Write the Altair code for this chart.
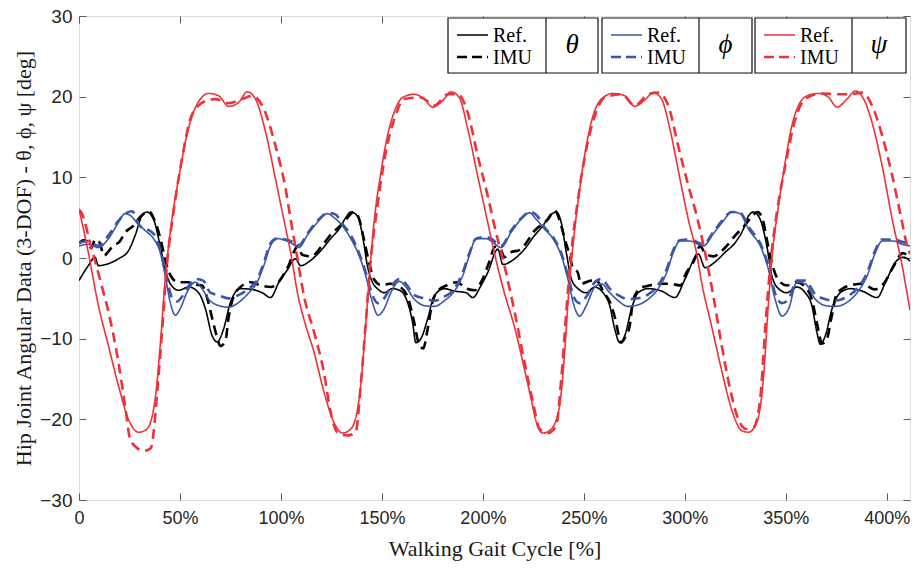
import altair as alt
import pandas as pd

# ---------------- data ----------------
theta_ref_x = [0, 4.6, 7.9, 9.6, 14.6, 19.5, 24.5, 27.8, 31.1, 33.6, 36.9, 40.2, 42.7, 45.2, 49.3, 54.3, 59.2, 62.6, 65.9, 68.4, 71.6, 75.0, 79.9, 85.7, 90.7, 94.8, 99.0, 103.1,
               107.2, 109.7, 114.7, 119.7, 124.6, 128.8, 132.1, 134.6, 137.9, 140.4, 142.8, 145.3, 147.8, 151.1, 155.2, 159.4, 162.7, 165.2, 166.8, 169.3, 172.6, 175.9, 180.9, 185.9, 191.7, 195.0, 199.1, 202.4,
               207.4, 209.9, 215.7, 220.6, 225.6, 229.7, 233.0, 236.3, 238.8, 241.3, 243.8, 247.1, 251.2, 255.4, 259.5, 262.8, 265.3, 267.8, 270.3, 273.6, 276.9, 281.9, 288.5, 295.1, 300.1,
               306.7, 310.0, 314.9, 319.9, 324.9, 329.0, 331.5, 334.0, 337.3, 340.6, 343.1, 346.4, 350.5, 355.5, 359.6, 362.9, 365.4, 367.1, 369.6, 372.9, 377.0, 382.0, 387.8, 395.2, 399.4, 404.3, 408.5, 411.5]
theta_ref_y = [-2.8, -0.95, 0.1, -0.95, -0.7, -0.1, 0.9, 2.8, 5.2, 5.7, 4.8, 1.5, -1.4, -3.2, -4.0, -3.6, -4.3, -6.3, -9.6, -10.4, -8.8, -5.5, -3.8, -3.9, -4.3, -4.9, -3.0, -1.5,
               -0.1, -0.95, -0.3, 0.9, 2.4, 3.6, 5.0, 5.7, 5.2, 2.8, -0.95, -3.0, -3.8, -4.3, -3.8, -4.1, -5.5, -8.0, -10.5, -10.0, -7.6, -4.7, -3.8, -4.1, -4.3, -4.9, -3.4, -1.8,
               1.1, -0.8, -0.1, 1.1, 2.8, 4.0, 5.2, 5.7, 4.4, 0.7, -2.6, -3.8, -4.3, -3.6, -4.3, -5.9, -8.8, -10.5, -9.6, -6.3, -4.3, -3.8, -4.1, -4.9, -2.6,
               0.5, -1.2, -0.5, 0.7, 1.9, 3.6, 5.2, 5.7, 4.8, 1.5, -2.2, -3.8, -4.3, -3.6, -4.3, -5.9, -9.2, -10.7, -9.6, -6.3, -4.3, -3.8, -4.1, -4.9, -3.0, -0.5, 0.1, -0.4]

theta_imu_x = [0, 2.0, 4.5, 6.0, 8.0, 10.0, 12.5, 14.5, 17.0, 20.0, 23.0, 27.0, 30.0, 33.0, 35.0, 37.5, 40.0, 42.0, 44.0, 46.5, 49.0, 54.0, 58.0, 61.0, 63.5, 65.5, 68.0, 70.0, 72.5, 74.0, 76.5, 80.0, 85.0, 90.0, 95.0, 98.0, 101.0,
               104.0, 106.5, 108.5, 110.5, 115.0, 120.0, 125.0, 129.0, 133.0, 136.0, 138.5, 141.0, 143.5, 146.0, 150.0, 154.0, 159.0, 163.0, 166.0, 168.5, 170.5, 172.5, 175.0, 178.0, 182.0, 187.0, 192.0, 196.0, 199.5, 203.0,
               206.0, 208.5, 210.7, 213.0, 219.0, 221.0, 225.6, 230.5, 232.2, 235.5, 238.8, 240.5, 243.0, 244.5, 247.0, 248.5, 253.7, 256.2, 260.0, 263.0, 265.5, 268.5, 270.5, 272.7, 274.5, 279.0, 281.0, 287.0, 292.6, 298.0, 300.0, 305.0,
               307.5, 310.0, 314.0, 320.0, 325.0, 329.5, 333.0, 336.0, 338.5, 341.0, 343.5, 346.5, 350.5, 355.5, 359.6, 363.0, 365.5, 368.0, 370.0, 372.5, 375.0, 378.0, 382.0, 388.0, 394.0, 399.0, 403.0, 408.0, 411.5]
theta_imu_y = [1.8, 2.2, 2.0, 1.2, 2.3, 2.0, 0.3, 0.8, 1.5, 2.0, 3.2, 4.0, 5.0, 5.6, 5.7, 4.6, 2.7, 0.6, -1.4, -2.6, -3.0, -3.0, -3.3, -3.4, -5.0, -7.0, -9.5, -10.9, -10.3, -7.5, -4.8, -3.6, -3.0, -3.4, -3.6, -3.2, -2.2,
               -0.8, 0.8, 1.5, 0.4, 0.2, 1.4, 3.0, 3.9, 5.0, 5.7, 5.0, 2.4, -0.4, -2.6, -3.4, -3.2, -3.6, -5.0, -8.0, -10.8, -11.2, -9.0, -5.5, -4.0, -3.4, -3.0, -3.8, -4.0, -2.8, -0.6,
               1.4, 1.2, 0.1, 0.6, 1.1, 1.7, 3.4, 4.4, 4.8, 5.9, 4.0, 2.4, 0.3, -1.2, -1.8, -3.2, -2.8, -2.8, -4.3, -5.5, -7.5, -10.5, -9.8, -8.4, -5.1, -3.6, -3.5, -3.2, -3.2, -3.4, -2.2, -0.1,
               1.5, 0.6, 0.2, 1.3, 2.8, 4.0, 5.1, 5.7, 4.8, 1.8, -1.0, -2.8, -3.4, -3.0, -3.6, -5.2, -8.2, -10.6, -10.3, -7.5, -4.6, -3.8, -3.4, -3.2, -3.9, -3.0, -1.2, 0.6, 0.0]

phi_ref_x = [0, 4.6, 9.6, 14.6, 19.5, 22.8, 25.3, 28.6, 32.8, 36.9, 40.2, 42.7, 45.2, 47.7, 50.1, 53.4, 57.6, 60.9, 64.2, 69.2, 74.1, 79.1, 84.1, 88.2, 91.5, 94.8, 98.1,
             104.8, 108.9, 113.0, 118.0, 123.0, 126.3, 130.4, 134.6, 138.7, 142.0, 145.3, 148.1, 151.1, 154.4, 158.6, 161.9, 166.0, 171.0, 176.0, 180.9, 185.9, 190.0, 193.3, 196.6, 201.6,
             204.1, 209.0, 214.0, 218.9, 223.1, 226.4, 230.5, 234.7, 238.8, 242.1, 245.1, 247.9, 251.2, 255.4, 258.7, 262.8, 267.0, 271.9, 276.9, 281.9, 286.8, 291.0, 294.3, 297.6, 302.5,
             309.2, 314.1, 319.1, 323.2, 327.4, 331.5, 338.1, 341.4, 344.7, 348.1, 351.4, 355.5, 359.6, 364.6, 369.6, 374.5, 380.3, 385.3, 390.3, 394.4, 397.7, 403.5, 407.6, 411.5]
phi_ref_y = [1.5, 1.7, 1.3, 2.4, 4.4, 5.5, 5.3, 4.4, 3.4, 2.4, 0.7, -2.2, -5.5, -7.1, -6.3, -4.3, -3.0, -3.8, -5.1, -5.9, -6.1, -5.5, -4.3, -3.0, -0.95, 1.5, 2.4,
             1.9, 1.3, 2.8, 4.4, 5.5, 5.0, 4.0, 2.4, 0.3, -2.2, -5.5, -7.1, -6.3, -4.3, -2.9, -3.6, -5.1, -5.9, -6.0, -5.3, -4.1, -2.2, 0.3, 2.4, 2.4,
             2.1, 1.3, 3.2, 4.8, 5.6, 4.8, 3.6, 2.4, 0.3, -2.6, -5.9, -7.2, -5.9, -3.6, -3.2, -4.3, -5.3, -6.0, -5.8, -5.1, -3.8, -1.8, 0.7, 2.1, 2.1,
             1.5, 3.0, 4.6, 5.7, 5.5, 3.6, 1.1, -1.4, -5.1, -7.2, -6.3, -3.0, -3.2, -5.1, -5.9, -6.0, -5.5, -4.3, -2.2, 0.7, 2.1, 2.1, 1.7, 1.5]

phi_imu_x = [0, 4.6, 9.6, 14.6, 19.5, 23.5, 26.5, 29.0, 32.0, 35.0, 38.0, 41.0, 43.5, 46.0, 48.5, 51.0, 54.0, 58.0, 61.5, 65.0, 69.0, 74.0, 79.0, 84.0, 88.0, 91.5, 95.0, 98.0,
             104.8, 108.9, 113.0, 118.0, 123.5, 127.0, 130.5, 134.6, 138.7, 142.0, 145.3, 148.1, 151.1, 154.4, 158.6, 161.9, 166.0, 171.0, 176.0, 180.9, 185.9, 190.0, 193.3, 196.6, 201.6,
             204.1, 209.0, 214.0, 218.9, 223.5, 227.0, 230.5, 234.7, 238.8, 242.1, 245.1, 247.9, 251.2, 255.4, 258.7, 262.8, 267.0, 271.9, 276.9, 281.9, 286.8, 291.0, 294.3, 297.6, 302.5,
             309.2, 314.1, 319.1, 323.2, 327.4, 331.5, 338.1, 341.4, 344.7, 348.1, 351.4, 355.5, 359.6, 364.6, 369.6, 374.5, 380.3, 385.3, 390.3, 394.4, 397.7, 403.5, 407.6, 411.5]
phi_imu_y = [1.9, 2.1, 1.5, 2.8, 4.6, 5.6, 5.8, 4.4, 3.6, 3.4, 2.6, 0.3, -2.6, -4.9, -5.4, -4.8, -3.6, -2.6, -2.8, -4.3, -4.6, -5.0, -4.6, -3.8, -2.8, -0.6, 1.9, 2.4,
             2.1, 1.6, 3.0, 4.6, 5.6, 5.4, 4.2, 2.8, 0.6, -1.8, -4.6, -5.6, -5.0, -3.6, -2.6, -3.2, -4.6, -5.0, -5.3, -4.8, -3.8, -1.8, 0.6, 2.4, 2.6,
             2.4, 1.5, 3.4, 4.9, 5.7, 5.2, 3.8, 2.6, 0.6, -2.2, -4.9, -5.6, -4.8, -3.0, -2.6, -3.8, -4.6, -5.1, -5.0, -4.5, -3.4, -1.4, 1.0, 2.2, 2.3,
             1.7, 3.2, 4.8, 5.7, 5.6, 3.9, 1.4, -1.0, -4.4, -5.6, -5.1, -2.8, -2.8, -4.5, -5.1, -5.3, -4.8, -3.8, -1.8, 1.0, 2.3, 2.3, 2.0, 1.8]

psi_ref_x = [0, 2.3, 4.6, 9.6, 14.6, 19.5, 24.5, 29.5, 33.6, 37.7, 40.2, 42.7, 46.0, 49.3, 52.6, 56.0, 60.1, 64.2, 69.2, 74.1, 79.1, 83.3, 87.4, 92.4, 97.3, 101.4, 104.8,
             108.4, 111.4, 116.4, 121.3, 126.3, 130.4, 134.6, 138.7, 141.2, 143.7, 146.1, 149.5, 152.8, 156.1, 160.2, 166.0, 171.0, 175.1, 180.1, 184.2, 188.3, 192.5, 197.4, 202.4, 206.0,
             210.5, 215.7, 220.6, 223.9, 226.4, 229.7, 233.9, 238.0, 240.5, 242.5, 244.6, 247.9, 251.2, 254.5, 258.7, 264.5, 270.3, 275.2, 280.2, 284.3, 288.5, 292.6, 297.6, 301.7, 305.9,
             308.3, 313.3, 318.3, 323.2, 328.2, 331.5, 335.6, 338.9, 341.1, 343.1, 346.4, 349.7, 353.0, 356.3, 360.5, 366.3, 371.2, 375.4, 380.3, 384.5, 388.6, 392.7, 397.7, 402.7, 407.6, 411.5]
psi_ref_y = [6.1, 3.5, 0.7, -5.9, -10.9, -15.8, -20.0, -21.6, -21.2, -17.5, -10.9, -2.6, 4.8, 9.8, 14.3, 17.6, 19.7, 20.4, 20.1, 18.8, 19.3, 20.6, 19.7, 15.6, 9.8, 4.8, 0.7,
             -4.6, -7.6, -11.7, -16.6, -20.4, -21.7, -21.2, -17.5, -10.9, -2.6, 4.4, 10.6, 15.2, 18.1, 19.9, 20.3, 19.7, 18.7, 19.5, 20.6, 19.9, 16.0, 10.2, 4.4, 0.3,
             -4.2, -8.6, -13.8, -17.5, -20.3, -21.7, -21.2, -18.3, -11.7, -4.3, 1.5, 8.5, 13.9, 17.6, 19.7, 20.4, 20.1, 18.8, 19.6, 20.5, 19.7, 16.0, 9.8, 4.8, 0.5,
             -3.0, -8.5, -14.0, -18.8, -21.4, -21.6, -20.4, -15.0, -6.7, -0.1, 6.5, 11.9, 16.4, 18.9, 20.1, 20.4, 19.9, 18.7, 19.7, 20.7, 19.7, 16.8, 11.4, 4.8, -0.95, -6.5]

psi_imu_x = [0, 1.0, 6.3, 11.2, 14.6, 19.5, 22.8, 25.3, 29.0, 32.0, 35.5, 37.0, 38.6, 41.1, 43.5, 46.8, 51.0, 55.1, 59.2, 63.0, 67.5, 74.1, 80.8, 85.7, 91.5, 97.3, 102.3, 104.8,
             108.0, 111.4, 116.4, 121.3, 124.6, 127.9, 132.9, 137.0, 139.5, 142.0, 144.5, 147.8, 151.9, 156.1, 161.0, 169.3, 175.9, 182.6, 187.5, 192.5, 197.4, 202.4, 205.7,
             210.7, 215.7, 220.6, 224.8, 228.1, 232.2, 236.3, 238.8, 241.3, 243.8, 247.1, 251.2, 255.4, 260.3, 268.6, 275.2, 281.9, 286.8, 291.8, 296.7, 301.7, 305.9,
             310.0, 314.1, 318.3, 322.4, 326.5, 330.7, 334.0, 337.3, 339.8, 342.3, 345.6, 349.7, 354.7, 359.6, 367.9, 374.5, 382.0, 387.8, 392.7, 397.7, 402.7, 407.6, 410.1, 411.5]
psi_imu_y = [6.0, 5.7, 1.1, -3.4, -6.7, -12.9, -18.3, -22.4, -23.6, -23.9, -23.6, -21.5, -17.0, -9.2, -1.0, 5.7, 12.3, 17.2, 18.9, 19.5, 19.7, 19.2, 19.7, 20.1, 18.5, 13.9, 8.6, 4.8,
             0.2, -4.7, -9.2, -14.2, -19.1, -21.6, -22.0, -21.6, -15.8, -8.0, -0.1, 6.5, 13.1, 17.2, 19.7, 19.9, 18.9, 20.3, 20.3, 18.0, 12.7, 7.7, 4.0,
             -1.0, -6.7, -12.9, -17.9, -21.2, -21.7, -20.8, -15.0, -6.7, 0.7, 7.3, 13.5, 17.6, 19.9, 20.3, 18.9, 20.3, 20.5, 18.9, 13.9, 9.0, 5.2,
             0.7, -4.7, -10.9, -16.2, -20.0, -21.2, -21.0, -17.5, -8.8, -0.95, 5.7, 11.4, 17.2, 19.7, 20.4, 20.3, 20.3, 20.5, 18.9, 15.2, 10.2, 4.4, 1.5, 0.5]

x_ticks = [0, 50, 100, 150, 200, 250, 300, 350, 400]
y_ticks = [-30, -20, -10, 0, 10, 20, 30]
legend_groups = [("θ", "#000000"), ("ϕ", "#3A56A8"), ("ψ", "#EE3239")]
legend_rows = ["Ref.", "IMU"]

# ---------------- build ----------------
series = [
    ("theta_ref", theta_ref_x, theta_ref_y, "#000000", False),
    ("theta_imu", theta_imu_x, theta_imu_y, "#000000", True),
    ("phi_ref", phi_ref_x, phi_ref_y, "#3A56A8", False),
    ("phi_imu", phi_imu_x, phi_imu_y, "#3A56A8", True),
    ("psi_ref", psi_ref_x, psi_ref_y, "#EE3239", False),
    ("psi_imu", psi_imu_x, psi_imu_y, "#EE3239", True),
]

W, H = 831, 484
XMAX = 411.5
xsc = alt.Scale(domain=[0, XMAX], nice=False, zero=False)
ysc = alt.Scale(domain=[-30, 30], nice=False, zero=False)

TICK = 7
AXCOL = "#595959"
LABCOL = "#262626"

x_axis = alt.Axis(orient="bottom", values=x_ticks,
                  labelExpr="datum.value == 0 ? '0' : datum.value + '%'",
                  tickSize=TICK, offset=-TICK, domain=False, grid=False,
                  tickColor=AXCOL, labelColor=LABCOL, labelPadding=9,
                  labelFont="Liberation Sans", labelFontSize=18, labelFlush=False,
                  title="Walking Gait Cycle [%]", titleFont="Liberation Serif",
                  titleFontSize=22, titleFontWeight="normal", titleColor="#1a1a1a",
                  titlePadding=11)
y_axis = alt.Axis(orient="left", values=y_ticks, tickSize=TICK, offset=-TICK,
                  domain=False, grid=False, tickColor=AXCOL, labelColor=LABCOL,
                  labelPadding=7, labelFont="Liberation Sans", labelFontSize=19,
                  labelFlush=False,
                  title="Hip Joint Angular Data (3-DOF) - θ, ϕ, ψ [deg]",
                  titleFont="Liberation Serif", titleFontSize=22,
                  titleFontWeight="normal", titleColor="#1a1a1a", titlePadding=4)
x_axis_top = alt.Axis(orient="top", values=x_ticks, tickSize=TICK, offset=-TICK,
                      domain=False, grid=False, labels=False, title=None,
                      tickColor=AXCOL)
y_axis_right = alt.Axis(orient="right", values=y_ticks, tickSize=TICK, offset=-TICK,
                        domain=False, grid=False, labels=False, title=None,
                        tickColor=AXCOL)

layers = []
for i, (name, xs, ys, col, dashed) in enumerate(series):
    d = pd.DataFrame({"x": xs, "y": ys, "o": list(range(len(xs)))})
    mk = alt.Chart(d).mark_line(
        color=col, interpolate="monotone",
        strokeWidth=2.6 if dashed else 1.6,
        strokeDash=[10, 6] if dashed else [1, 0],
        clip=True,
    )
    layers.append(mk.encode(
        x=alt.X("x:Q", scale=xsc, axis=x_axis if i == 0 else None),
        y=alt.Y("y:Q", scale=ysc, axis=y_axis if i == 0 else None),
        order="o:Q",
    ))

tick_layer = alt.Chart(pd.DataFrame({"x": [0, XMAX], "y": [-30, 30]})).mark_point(opacity=0).encode(
    x=alt.X("x:Q", scale=xsc, axis=x_axis_top),
    y=alt.Y("y:Q", scale=ysc, axis=y_axis_right),
)

# ---------------- custom legend (pixel positions inside the plot area) ----------------
one = pd.DataFrame({"a": [0]})
box_left = [369, 523, 676]
box_div = [467, 620, 773]
box_right = [519, 673, 827]
BT, BB = 2, 57
legend_layers = []
for k, (sym, col) in enumerate(legend_groups):
    L, D, R = box_left[k], box_div[k], box_right[k]
    legend_layers.append(alt.Chart(one).mark_rect(fill="white", stroke="#111111", strokeWidth=1.2).encode(
        x=alt.value(L), x2=alt.value(R), y=alt.value(BT), y2=alt.value(BB)))
    legend_layers.append(alt.Chart(one).mark_rule(color="#111111", strokeWidth=1.2).encode(
        x=alt.value(D), y=alt.value(BT), y2=alt.value(BB)))
    for r, lab in enumerate(legend_rows):
        yy = 19 + 22 * r
        legend_layers.append(alt.Chart(one).mark_rule(
            color=col, strokeWidth=1.6 if r == 0 else 2.6,
            strokeDash=[1, 0] if r == 0 else [10, 5]).encode(
            x=alt.value(L + 9), x2=alt.value(L + 40), y=alt.value(yy)))
        legend_layers.append(alt.Chart(one).mark_text(
            text=lab, font="Liberation Serif", fontSize=20, align="left",
            baseline="middle", color="#000000").encode(
            x=alt.value(L + 45), y=alt.value(yy + 1)))
    legend_layers.append(alt.Chart(one).mark_text(
        text=sym, font="Liberation Serif", fontSize=27, fontStyle="italic",
        align="center", baseline="middle", color="#000000").encode(
        x=alt.value((D + R) / 2), y=alt.value(29)))

chart = alt.layer(*layers, tick_layer, *legend_layers).resolve_axis(
    x="independent", y="independent"
).properties(
    width=W, height=H,
    autosize=alt.AutoSizeParams(type="none"),
    padding={"left": 79, "top": 16, "right": 4, "bottom": 70},
).configure_view(stroke=AXCOL, strokeWidth=1).configure(background="white")

chart.save("out.html", embed_options={"renderer": "svg", "actions": False})
